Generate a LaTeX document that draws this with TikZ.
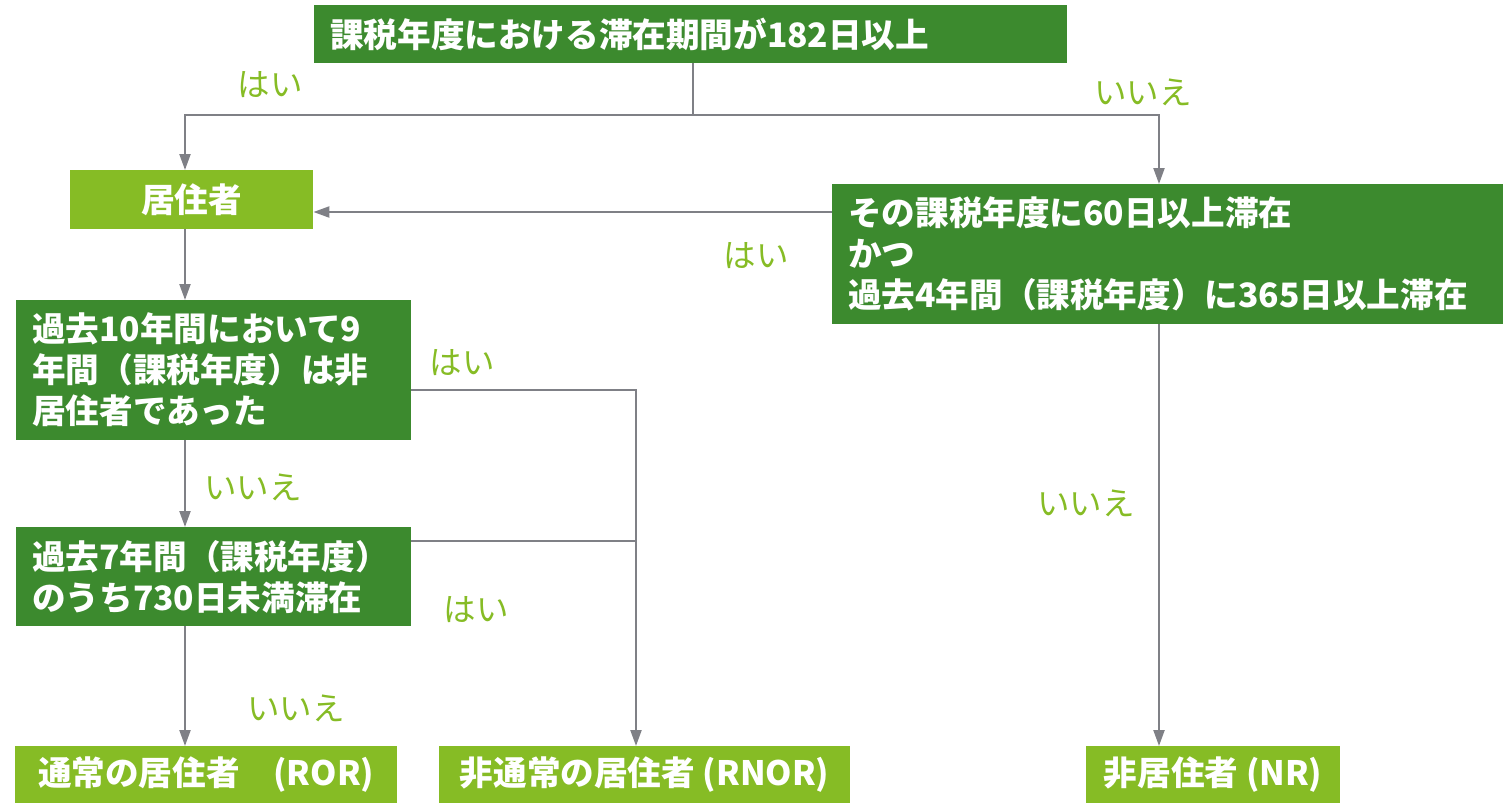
\documentclass[tikz,border=0pt]{standalone}
\usepackage{fontspec}
\setmainfont{Noto Sans CJK JP}
\usetikzlibrary{arrows.meta}
\definecolor{dg}{HTML}{3C8A2E}
\definecolor{lg}{HTML}{86BC25}
\definecolor{lncol}{HTML}{7F8086}
\begin{document}
\begin{tikzpicture}[x=1pt,y=-1pt,
  dbox/.style={fill=dg,text=white,font=\fontsize{33.6}{41}\selectfont\bfseries,inner sep=0pt,anchor=north west,align=left},
  lbox/.style={fill=lg,text=white,font=\fontsize{33.6}{41}\selectfont\bfseries,inner sep=0pt,anchor=north west,align=center},
  lab/.style={text=lg,font=\fontsize{32.5}{32.5}\selectfont,inner sep=0pt},
  conn/.style={draw=lncol,line width=2.2pt},
  arr/.style={conn,-{Triangle[width=11pt,length=16pt]}}]
\useasboundingbox (0,0) rectangle (1504,803);
% nodes
\node[dbox,minimum width=753pt,minimum height=58pt,text width=721pt] (top) at (314,5) {課税年度における滞在期間が182日以上};
\node[lbox,minimum width=243pt,minimum height=59pt] (res) at (70,170) {居住者};
\node[dbox,minimum width=671pt,minimum height=140pt,text width=639pt] (c2) at (832,184) {その課税年度に60日以上滞在\\かつ\\過去4年間（課税年度）に365日以上滞在};
\node[dbox,minimum width=395pt,minimum height=140pt,text width=363pt] (q1) at (16,300) {過去10年間において9\\年間（課税年度）は非\\居住者であった};
\node[dbox,minimum width=395pt,minimum height=99pt,text width=363pt] (q2) at (16,527) {過去7年間（課税年度）\\のうち730日未満滞在};
\node[lbox,minimum width=382pt,minimum height=57pt] (ror) at (15,746) {通常の居住者　(ROR)};
\node[lbox,minimum width=411pt,minimum height=57pt] (rnor) at (439,746) {非通常の居住者 (RNOR)};
\node[lbox,minimum width=254pt,minimum height=57pt] (nr) at (1086,746) {非居住者 (NR)};
% helper coordinates
\coordinate (sp) at (693,115);
\coordinate (cA) at (185,0);
\coordinate (cB) at (636,0);
\coordinate (cC) at (1159,0);
\coordinate (yR) at (0,212);
\coordinate (y1) at (0,390);
\coordinate (y2) at (0,541);
% connectors
\draw[conn] (top.south -| sp) -- (sp);
\draw[arr] (sp) -- (sp -| cA) -- (res.north -| cA);
\draw[arr] (sp) -- (sp -| cC) -- (c2.north -| cC);
\draw[arr] (c2.west |- yR) -- (res.east |- yR);
\draw[arr] (res.south -| cA) -- (q1.north -| cA);
\draw[arr] (q1.south -| cA) -- (q2.north -| cA);
\draw[arr] (q2.south -| cA) -- (ror.north -| cA);
\draw[arr] (q1.east |- y1) -- (cB |- y1) -- (rnor.north -| cB);
\draw[conn] (q2.east |- y2) -- (cB |- y2);
\draw[arr] (c2.south -| cC) -- (nr.north -| cC);
% labels
\node[lab] (l1) at (270,85) {はい};
\node[lab] (l2) at (1143,92) {いいえ};
\node[lab] (l3) at (756,256) {はい};
\node[lab] (l4) at (462,363) {はい};
\node[lab] (l5) at (253,487) {いいえ};
\node[lab] (l6) at (476,610) {はい};
\node[lab] (l7) at (296,708) {いいえ};
\node[lab] (l8) at (1086,503) {いいえ};
\end{tikzpicture}
\end{document}
